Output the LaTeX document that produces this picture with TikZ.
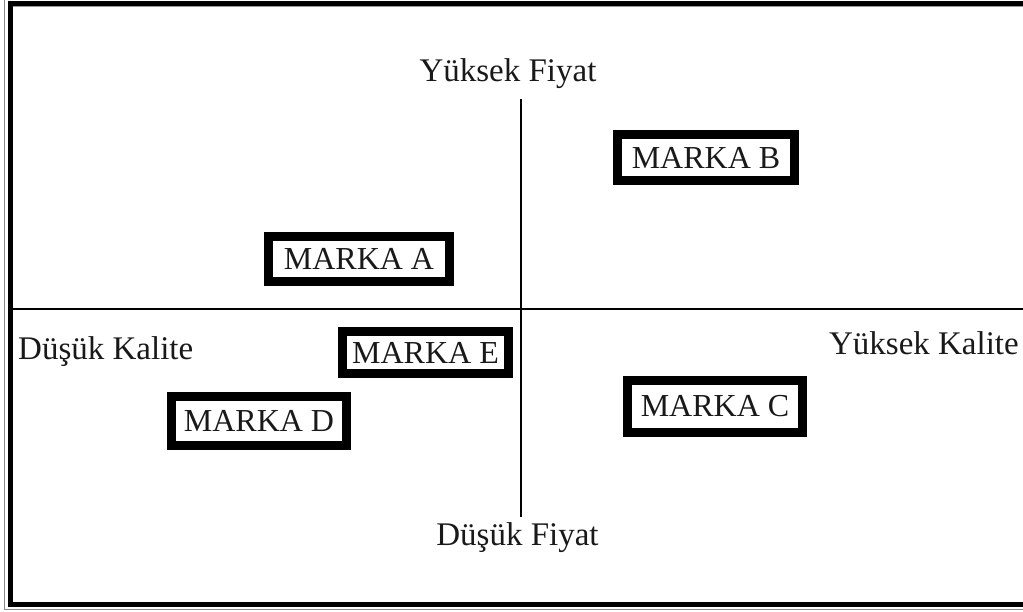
\documentclass[tikz,border=0pt]{standalone}
\usepackage{fontspec}
\setmainfont{Liberation Serif}
\begin{document}
\begin{tikzpicture}[x=1pt,y=-1pt,
  lbl/.style={font=\fontsize{33}{38}\selectfont, inner sep=0pt, text=black!90},
  brand/.style={draw=black, line width=9.5pt, fill=white, font=\fontsize{32}{37}\selectfont, inner sep=0pt, text=black!90},
  axis/.style={draw=black, line width=1.4pt},
  frameblk/.style={draw=black, line width=5pt},
  framegry/.style={draw=black!45, line width=1.5pt}]
\useasboundingbox[fill=white] (0,0) rectangle (1023,612);
% frame
\draw[framegry] (4.5,0) -- (4.5,609.5) -- (1023,609.5);
\draw[frameblk] (1023,4) -- (10,4) -- (10,604.5) -- (1023,604.5);
\draw[draw=black!40, line width=0.8pt] (12.5,6.8) -- (1023,6.8);
% axis end points
\coordinate (top) at (521,99);
\coordinate (bot) at (521,517);
\coordinate (lft) at (12,309);
\coordinate (rgt) at (1023,309);
\draw[axis] (top) -- (bot);
\draw[axis] (lft) -- (rgt);
% axis labels
\node[lbl] (yf) at (508,74) {Yüksek Fiyat};
\node[lbl] (df) at (517.5,538) {Düşük Fiyat};
\node[lbl, anchor=west] (dk) at (18,352) {Düşük Kalite};
\node[lbl, anchor=east] (yk) at (1019,343) {Yüksek Kalite};
% brands
\node[brand, minimum width=181pt, minimum height=45pt] (a) at (359,259) {MARKA A};
\node[brand, minimum width=177pt, minimum height=46pt] (b) at (706,157.5) {MARKA B};
\node[brand, minimum width=175pt, minimum height=52pt] (c) at (715,406.5) {MARKA C};
\node[brand, minimum width=175pt, minimum height=49pt] (d) at (259,421) {MARKA D};
\node[brand, minimum width=166pt, minimum height=42pt] (e) at (425.5,352.5) {MARKA E};
\end{tikzpicture}
\end{document}
